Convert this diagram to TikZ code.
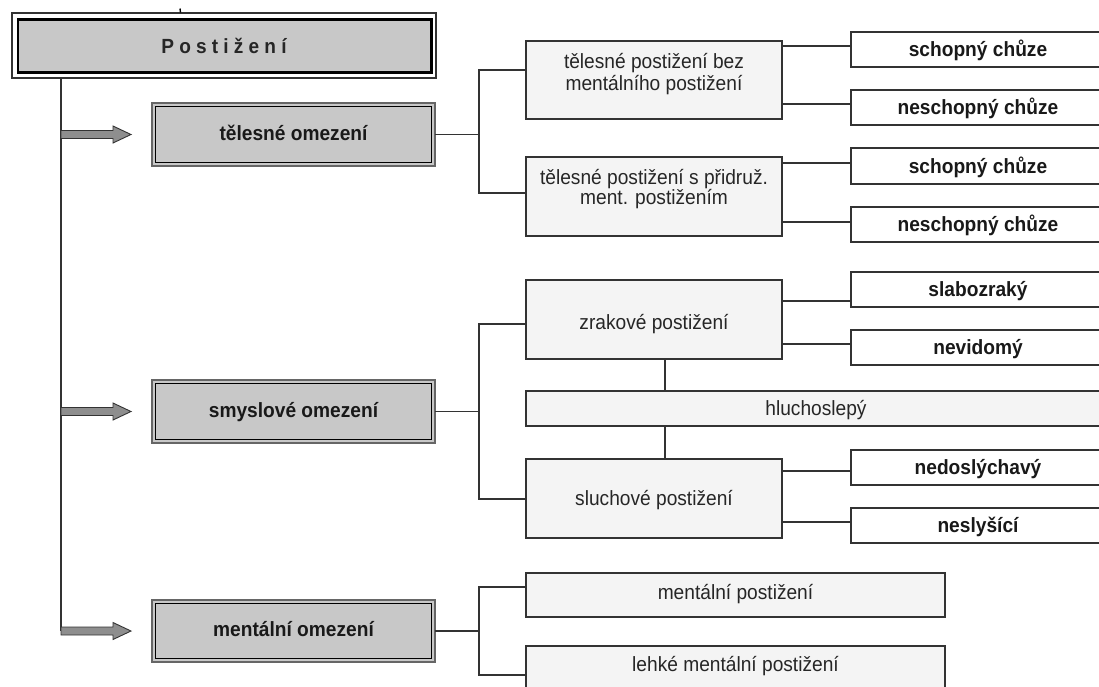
\documentclass[tikz,border=0pt]{standalone}
\usepackage{fontspec}
\setmainfont{Liberation Sans}[FakeStretch=0.93]
\definecolor{boxgray}{HTML}{C8C8C8}
\definecolor{lightbox}{HTML}{F4F4F4}
\definecolor{linec}{HTML}{333333}
\definecolor{ogray}{HTML}{666666}
\definecolor{arrowfill}{HTML}{8E8E8E}
\newcommand\boxnode[6]{\node[#1, anchor=north west, minimum width={#4-#2}, minimum height={#5-#3}] (#6) at (#2,#3) {};}
\begin{document}
\begin{tikzpicture}[x=1pt,y=-1pt,
  every node/.style={inner sep=0pt, outer sep=0pt},
  conn/.style={draw=linec, line width=1.6pt},
  rbox/.style={rectangle, draw=linec, line width=1.6pt, fill=white},
  pbox/.style={rectangle, draw=linec, line width=1.6pt, fill=lightbox},
  obox/.style={rectangle, draw=ogray, line width=2pt, fill=boxgray,
    path picture={\draw[black, line width=1.6pt]
      ([shift={(3.5,3.5)}]path picture bounding box.north west) rectangle
      ([shift={(-3.5,-3.5)}]path picture bounding box.south east);}},
  topbox/.style={rectangle, draw=linec, line width=1.2pt, fill=white,
    path picture={\draw[black, line width=2.6pt, fill=boxgray]
      ([shift={(6,6.5)}]path picture bounding box.north west) rectangle
      ([shift={(-4.5,-5.5)}]path picture bounding box.south east);}},
  txt/.style={anchor=base, text=black!85, font=\fontsize{20.6}{22}\selectfont},
  btxt/.style={anchor=base, text=black!90, font=\fontsize{20.6}{22}\selectfont\bfseries},
  blockarrow/.style={fill=arrowfill, draw=linec, line width=0.9pt, line join=miter}
]
\useasboundingbox (0,0) rectangle (1099,686);

% top box
\boxnode{topbox}{12}{13}{436}{78}{post}
\node[anchor=base, font=\fontsize{20.5}{22}\selectfont\bfseries, text=black!85] (post-t) at (224,53.5)
  {P\kern5.2pt o\kern5.2pt s\kern5.2pt t\kern5.2pt i\kern5.2pt ž\kern5.2pt e\kern5.2pt n\kern5.2pt í};
\draw[black, line width=1.4pt] (180,8.5) -- (180.5,12.5);

% level-1 boxes
\boxnode{obox}{152}{103}{435}{166}{tel}
\boxnode{obox}{152}{380}{435}{443}{smys}
\boxnode{obox}{152}{600}{435}{662}{ment}
\node[btxt] (tel-t) at (293.5,140) {tělesné omezení};
\node[btxt] (smys-t) at (293.5,417) {smyslové omezení};
\node[btxt] (ment-t) at (293.5,636) {mentální omezení};

% trunk and block arrows
\coordinate (trunkx) at (61,0);
\draw[conn] (trunkx |- post.south) -- (trunkx |- ment.west);
\foreach \b in {tel,smys,ment}{
  \coordinate (a-\b) at (trunkx |- \b.west);
  \draw[blockarrow] (a-\b) -- ++(0,-4) -- ++(52,0) -- ++(0,-4.5) -- ++(18,8.5)
    -- ++(-18,8.5) -- ++(0,-4.5) -- ++(-52,0) -- cycle;
}

% level-2 boxes
\boxnode{pbox}{526}{41}{782}{119}{tbez}
\boxnode{pbox}{526}{157}{782}{236}{ts}
\boxnode{pbox}{526}{280}{782}{359}{zrak}
\boxnode{pbox}{526}{391}{1106}{426}{hluch}
\boxnode{pbox}{526}{459}{782}{538}{sluch}
\boxnode{pbox}{526}{573}{945}{617}{mpost}
\boxnode{pbox}{526}{646}{945}{689}{lehke}
\node[txt] (tbez-t1) at (654,68.5) {tělesné postižení bez};
\node[txt] (tbez-t2) at (654,90.5) {mentálního postižení};
\node[txt] (ts-t1) at (654,184) {tělesné postižení s přidruž.};
\node[txt] (ts-t2) at (654,204.5) {ment. postižením};
\node[txt] (zrak-t) at (654,329) {zrakové postižení};
\node[txt] (hluch-t) at (816,415) {hluchoslepý};
\node[txt] (sluch-t) at (654,505) {sluchové postižení};
\node[txt] (mpost-t) at (735.5,599) {mentální postižení};
\node[txt] (lehke-t) at (735.5,671) {lehké mentální postižení};

% level-3 boxes
\boxnode{rbox}{851}{32}{1106}{67}{sch1}
\boxnode{rbox}{851}{90}{1106}{125}{nsch1}
\boxnode{rbox}{851}{148}{1106}{184}{sch2}
\boxnode{rbox}{851}{207}{1106}{242}{nsch2}
\boxnode{rbox}{851}{272}{1106}{307}{slab}
\boxnode{rbox}{851}{330}{1106}{365}{nevid}
\boxnode{rbox}{851}{450}{1106}{485}{nedosl}
\boxnode{rbox}{851}{508}{1106}{543}{neslys}
\node[btxt] (sch1-t) at (978,56.5) {schopný chůze};
\node[btxt] (nsch1-t) at (978,114.5) {neschopný chůze};
\node[btxt] (sch2-t) at (978,173) {schopný chůze};
\node[btxt] (nsch2-t) at (978,231.5) {neschopný chůze};
\node[btxt] (slab-t) at (978,296.5) {slabozraký};
\node[btxt] (nevid-t) at (978,354.5) {nevidomý};
\node[btxt] (nedosl-t) at (978,474.5) {nedoslýchavý};
\node[btxt] (neslys-t) at (978,532.5) {neslyšící};

% brackets level 1 -> level 2
\coordinate (b1) at (479,70);  \coordinate (b2) at (479,193);
\draw[conn] (tel.east) -- (tel.east -| b1);
\draw[conn] (tbez.west |- b1) -- (b1) -- (b2) -- (ts.west |- b2);
\coordinate (b3) at (479,324); \coordinate (b4) at (479,499);
\draw[conn] (smys.east) -- (smys.east -| b3);
\draw[conn] (zrak.west |- b3) -- (b3) -- (b4) -- (sluch.west |- b4);
\coordinate (b5) at (479,587); \coordinate (b6) at (479,675);
\draw[conn] (ment.east) -- (ment.east -| b5);
\draw[conn] (mpost.west |- b5) -- (b5) -- (b6) -- (lehke.west |- b6);

% hluchoslepy links
\coordinate (hx) at (665,0);
\draw[conn] (hx |- zrak.south) -- (hx |- hluch.north);
\draw[conn] (hx |- hluch.south) -- (hx |- sluch.north);

% level 2 -> level 3
\draw[conn] (tbez.east |- 0,46) -- (sch1.west |- 0,46);
\draw[conn] (tbez.east |- 0,104) -- (nsch1.west |- 0,104);
\draw[conn] (ts.east |- 0,163) -- (sch2.west |- 0,163);
\draw[conn] (ts.east |- 0,222) -- (nsch2.west |- 0,222);
\draw[conn] (zrak.east |- 0,301) -- (slab.west |- 0,301);
\draw[conn] (zrak.east |- 0,344) -- (nevid.west |- 0,344);
\draw[conn] (sluch.east |- 0,471) -- (nedosl.west |- 0,471);
\draw[conn] (sluch.east |- 0,522) -- (neslys.west |- 0,522);
\end{tikzpicture}
\end{document}
